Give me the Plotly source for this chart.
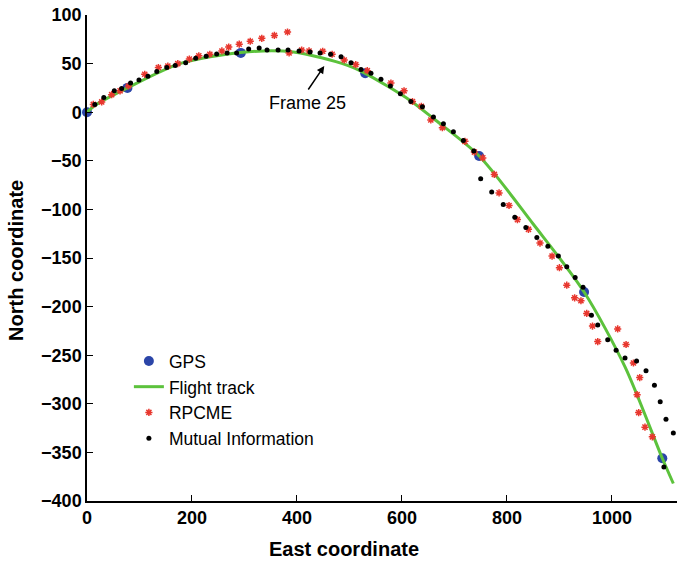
import plotly.graph_objects as go

# GPS fixes
gps_east = [0, 77, 293, 530, 747, 947, 1096]
gps_north = [0, 25, 61, 40, -45, -185, -356]

# Flight track
track_east = [0, 15, 77, 177, 293, 393, 495, 530, 615, 660, 747, 850, 947, 1025, 1096, 1117]
track_north = [0, 7, 25, 50, 61.5, 62, 48.5, 40, 12.4, -6.5, -45, -115, -185, -262, -356, -382]

# RPCME estimates
rpcme_east = [12, 28, 47, 63, 79, 110, 136, 154, 173, 195, 213, 234, 257, 270, 290, 311, 333,
              357, 382, 385, 409, 423, 449, 467, 490, 512, 534, 579, 604, 620, 637, 655, 677,
              720, 738, 754, 776, 785, 804, 820, 841, 863, 886, 900, 914, 929, 941, 952, 963,
              973, 1011, 1027, 1041, 1053, 1048, 1051, 1063, 1077]
rpcme_north = [8, 10.6, 18, 22, 27, 39, 46, 47.5, 50, 54.7, 58, 59.6, 63, 67, 70, 73, 76,
               79, 82.5, 61, 64, 63, 62.7, 59.6, 53.7, 49, 42.7, 30, 22, 11, 6, -8, -16,
               -30, -41, -47, -64, -83, -96, -110.5, -120.5, -134.6, -148, -160, -178, -191,
               -194, -207, -220, -236, -223, -239, -258, -273, -290.6, -309, -324, -334]

# Mutual Information estimates
mi_east = [15, 32, 52, 66, 83, 99, 116, 133, 152, 168, 188, 207, 227, 247, 267, 285, 308, 328,
           343, 364, 383, 404, 425, 444, 464, 484, 503, 522, 541, 560, 578, 597, 617, 639, 660,
           679, 698, 717, 737, 750, 771, 793, 815, 836, 857, 878, 898, 914, 930, 945, 961, 973,
           992, 1008, 1025, 1047, 1065, 1081, 1092, 1103, 1117, 1099]
mi_north = [8, 15, 22, 24.5, 30, 33, 37, 42, 46, 48, 51, 55.5, 57.5, 60, 61, 61, 65, 66, 64,
            64, 64, 63, 62, 61, 59.5, 57, 51, 44, 40, 34, 27, 19, 11, 5.5, -5, -12, -20, -29,
            -40, -68.5, -82, -95, -108, -118.5, -129, -138, -148, -159, -170, -180, -209, -219,
            -234, -245, -253, -256, -266, -281, -298, -316, -330, -365]

x_ticks = [0, 200, 400, 600, 800, 1000]
y_ticks = [100, 50, 0, -50, -100, -150, -200, -250, -300, -350, -400]

FONT = "Liberation Sans, Arial, Helvetica, sans-serif"

fig = go.Figure()
fig.add_trace(go.Scatter(x=gps_east, y=gps_north, mode="markers", name="GPS",
                         marker=dict(color="#2b45a8", size=10), cliponaxis=False))
fig.add_trace(go.Scatter(x=track_east, y=track_north, mode="lines", name="Flight track",
                         line=dict(color="#5cc23c", width=3, shape="spline", smoothing=0.8)))
fig.add_trace(go.Scatter(x=rpcme_east, y=rpcme_north, mode="markers", name="RPCME",
                         marker=dict(symbol="asterisk", size=6, color="#e8372e",
                                     line=dict(color="#e8372e", width=1.5))))
fig.add_trace(go.Scatter(x=mi_east, y=mi_north, mode="markers", name="Mutual Information",
                         marker=dict(color="black", size=5), cliponaxis=False))

fig.add_annotation(x=452, y=47.5, ax=-17, ay=25, text="", showarrow=True,
                   arrowhead=2, arrowsize=1, arrowwidth=1.5, arrowcolor="black",
                   xref="x", yref="y")
fig.add_annotation(x=421, y=9, text="Frame 25", showarrow=False,
                   font=dict(family=FONT, size=18, color="black"), xref="x", yref="y")

# axis titles
fig.add_annotation(x=0.4356, y=-0.0988, xref="paper", yref="paper", text="East coordinate",
                   showarrow=False, xanchor="center", yanchor="middle",
                   font=dict(family=FONT, size=20, weight="bold", color="black"))
fig.add_annotation(x=-0.1203, y=0.494, xref="paper", yref="paper", text="North coordinate",
                   showarrow=False, xanchor="center", yanchor="middle", textangle=-90,
                   font=dict(family=FONT, size=20, weight="bold", color="black"))

fig.update_layout(
    width=679, height=561,
    margin=dict(l=87, r=2, t=15, b=60),
    plot_bgcolor="white", paper_bgcolor="white",
    font=dict(family=FONT, color="black"),
    showlegend=True,
    legend=dict(x=0.071, y=0.325, xanchor="left", yanchor="top",
                bgcolor="rgba(0,0,0,0)", font=dict(family=FONT, size=17.5),
                tracegroupgap=0, itemsizing="trace"),
    xaxis=dict(range=[0, 1124], tickvals=x_ticks, showgrid=False, zeroline=False,
               showline=True, linecolor="black", linewidth=1.5, automargin=False,
               ticks="inside", ticklen=6, tickwidth=1.2, tickcolor="black",
               tickfont=dict(family=FONT, size=18, weight="bold")),
    yaxis=dict(range=[-400, 100], tickvals=y_ticks, showgrid=False, zeroline=False,
               showline=True, linecolor="black", linewidth=1.5, automargin=False,
               ticks="inside", ticklen=6, tickwidth=1.2, tickcolor="black",
               tickfont=dict(family=FONT, size=18, weight="bold")),
)

fig.write_html("out.html", config={"displayModeBar": False},
               post_script="document.body.style.margin='0';")
